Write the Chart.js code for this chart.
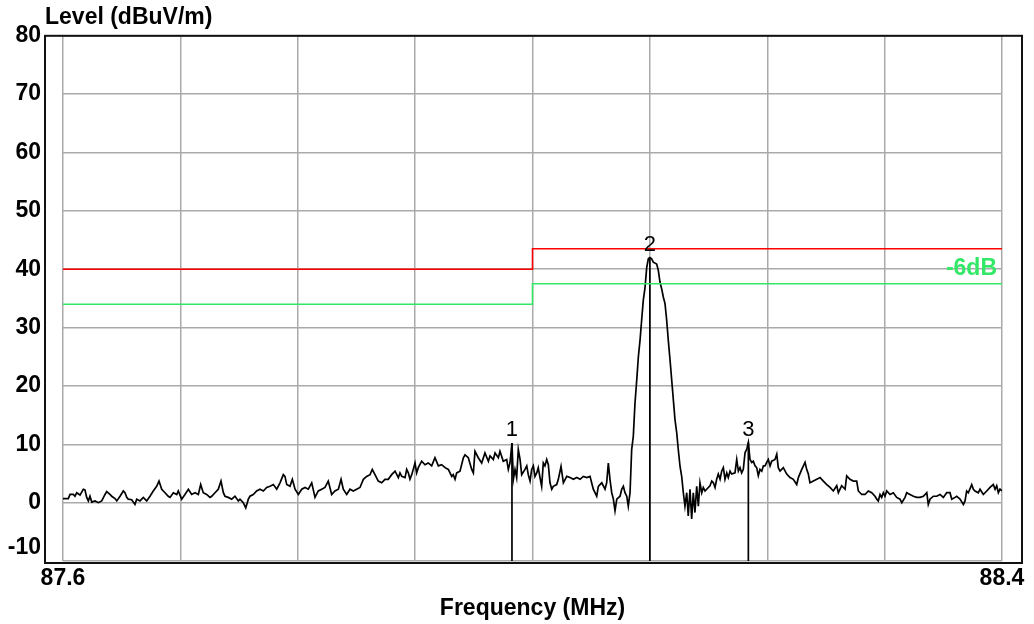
<!DOCTYPE html>
<html>
<head>
<meta charset="utf-8">
<script src="https://cdn.jsdelivr.net/npm/chart.js@4/dist/chart.umd.min.js"></script>
<style>
  html, body { margin: 0; padding: 0; background: #fff; }
  #wrap { width: 1034px; height: 624px; }
</style>
</head>
<body>
<div id="wrap"><canvas id="ItemA" width="1034" height="624"></canvas></div>
<script>
var viewport = document.getElementById("ItemA");
var ctx = viewport.getContext("2d");

// axis range / ticks
var freqMin = 87.6, freqMax = 88.4;
var levelTicks = [-10, 0, 10, 20, 30, 40, 50, 60, 70, 80];

// limit lines (red = limit, green = limit -6dB)
var limitFreq  = [87.6, 88.0, 88.0, 88.4];
var limitLevel = [40, 40, 43.5, 43.5];
var warnLevel  = [34, 34, 37.5, 37.5];

// markers
var markerName  = ['1', '2', '3'];
var markerFreq  = [87.9825, 88.1000, 88.1839];
var markerLevel = [10.2, 42.0, 10.3];

var traceFreq = [
  87.6000, 87.6045, 87.6060, 87.6088, 87.6102, 87.6117, 87.6145, 87.6173, 87.6187, 87.6202,
  87.6216, 87.6230, 87.6245, 87.6273, 87.6301, 87.6330, 87.6358, 87.6372, 87.6400, 87.6415,
  87.6443, 87.6458, 87.6486, 87.6514, 87.6528, 87.6543, 87.6556, 87.6585, 87.6613, 87.6628,
  87.6656, 87.6684, 87.6713, 87.6741, 87.6769, 87.6798, 87.6818, 87.6841, 87.6869, 87.6897,
  87.6912, 87.6940, 87.6969, 87.6982, 87.7011, 87.7039, 87.7068, 87.7096, 87.7125, 87.7153,
  87.7173, 87.7195, 87.7224, 87.7252, 87.7267, 87.7295, 87.7323, 87.7346, 87.7366, 87.7380,
  87.7408, 87.7437, 87.7465, 87.7494, 87.7508, 87.7536, 87.7557, 87.7579, 87.7593, 87.7621,
  87.7650, 87.7678, 87.7707, 87.7735, 87.7764, 87.7792, 87.7821, 87.7849, 87.7877, 87.7891,
  87.7906, 87.7934, 87.7954, 87.7977, 87.8005, 87.8034, 87.8062, 87.8090, 87.8119, 87.8147,
  87.8175, 87.8204, 87.8232, 87.8260, 87.8289, 87.8317, 87.8346, 87.8369, 87.8388, 87.8417,
  87.8445, 87.8473, 87.8502, 87.8530, 87.8559, 87.8587, 87.8616, 87.8635, 87.8658, 87.8686,
  87.8715, 87.8743, 87.8771, 87.8800, 87.8829, 87.8857, 87.8871, 87.8886, 87.8914, 87.8928,
  87.8942, 87.8956, 87.8971, 87.8984, 87.8999, 87.9013, 87.9027, 87.9056, 87.9084, 87.9112,
  87.9141, 87.9169, 87.9198, 87.9226, 87.9255, 87.9283, 87.9312, 87.9325, 87.9340, 87.9354,
  87.9382, 87.9411, 87.9425, 87.9453, 87.9482, 87.9496, 87.9510, 87.9538, 87.9567, 87.9595,
  87.9624, 87.9638, 87.9666, 87.9681, 87.9709, 87.9723, 87.9751, 87.9780, 87.9794, 87.9808,
  87.9825, 87.9837, 87.9851, 87.9865, 87.9879, 87.9894, 87.9908, 87.9936, 87.9951, 87.9964,
  87.9979, 87.9993, 88.0007, 88.0021, 88.0036, 88.0049, 88.0064, 88.0078, 88.0092, 88.0106,
  88.0121, 88.0135, 88.0149, 88.0164, 88.0177, 88.0206, 88.0220, 88.0243, 88.0263, 88.0292,
  88.0320, 88.0348, 88.0377, 88.0405, 88.0433, 88.0462, 88.0490, 88.0518, 88.0547, 88.0561,
  88.0590, 88.0618, 88.0632, 88.0646, 88.0660, 88.0675, 88.0689, 88.0703, 88.0718, 88.0746,
  88.0760, 88.0774, 88.0788, 88.0803, 88.0816, 88.0831, 88.0845, 88.0859, 88.0873, 88.0888,
  88.0902, 88.0916, 88.0930, 88.0944, 88.0959, 88.0973, 88.0987, 88.1000, 88.1015, 88.1029,
  88.1058, 88.1072, 88.1086, 88.1101, 88.1115, 88.1129, 88.1143, 88.1157, 88.1172, 88.1186,
  88.1200, 88.1214, 88.1229, 88.1242, 88.1257, 88.1271, 88.1285, 88.1299, 88.1314, 88.1327,
  88.1342, 88.1356, 88.1370, 88.1384, 88.1399, 88.1413, 88.1427, 88.1442, 88.1455, 88.1470,
  88.1484, 88.1512, 88.1527, 88.1541, 88.1555, 88.1569, 88.1583, 88.1598, 88.1612, 88.1626,
  88.1640, 88.1655, 88.1668, 88.1683, 88.1697, 88.1725, 88.1740, 88.1754, 88.1768, 88.1782,
  88.1796, 88.1811, 88.1825, 88.1839, 88.1853, 88.1868, 88.1881, 88.1896, 88.1910, 88.1924,
  88.1938, 88.1953, 88.1967, 88.1981, 88.1995, 88.2009, 88.2024, 88.2038, 88.2066, 88.2081,
  88.2094, 88.2109, 88.2137, 88.2166, 88.2194, 88.2222, 88.2251, 88.2265, 88.2294, 88.2322,
  88.2336, 88.2350, 88.2364, 88.2393, 88.2422, 88.2450, 88.2478, 88.2507, 88.2535, 88.2563,
  88.2592, 88.2606, 88.2634, 88.2663, 88.2677, 88.2705, 88.2733, 88.2762, 88.2776, 88.2805,
  88.2833, 88.2861, 88.2890, 88.2918, 88.2933, 88.2946, 88.2961, 88.2975, 88.2989, 88.3003,
  88.3018, 88.3046, 88.3074, 88.3103, 88.3131, 88.3146, 88.3174, 88.3188, 88.3216, 88.3245,
  88.3273, 88.3302, 88.3330, 88.3359, 88.3372, 88.3387, 88.3415, 88.3444, 88.3472, 88.3500,
  88.3529, 88.3557, 88.3572, 88.3600, 88.3614, 88.3642, 88.3671, 88.3685, 88.3699, 88.3713,
  88.3742, 88.3756, 88.3770, 88.3798, 88.3813, 88.3841, 88.3870, 88.3898, 88.3926, 88.3941,
  88.3955, 88.3969, 88.3983, 88.4000
];
var traceLevel = [
  0.7, 0.7, 1.4, 1.4, 1.1, 1.7, 1.3, 2.3, 2.2, 0.9,
  0.3, 1.1, 0.1, 0.3, 0.0, 0.3, 1.4, 1.9, 1.4, 1.1,
  0.7, 0.3, 1.1, 2.0, 1.7, 0.9, 0.6, 0.5, -0.3, 0.6,
  0.3, 0.9, 0.3, 1.1, 2.0, 2.8, 3.7, 2.3, 1.7, 1.1,
  0.9, 1.7, 1.4, 2.0, 0.6, 1.4, 2.3, 1.4, 1.7, 1.4,
  3.1, 1.7, 1.4, 0.9, 1.1, 1.7, 2.3, 3.7, 1.7, 1.1,
  0.9, 0.6, 1.1, 0.3, 0.6, 0.0, -0.9, 0.6, 1.1, 1.4,
  2.0, 2.3, 2.0, 2.6, 2.8, 3.1, 2.3, 3.4, 4.8, 4.5,
  3.1, 2.8, 4.0, 2.3, 1.4, 2.3, 2.6, 2.3, 3.4, 0.9,
  2.0, 2.3, 2.6, 3.7, 1.4, 2.0, 2.3, 4.0, 2.3, 1.4,
  2.3, 2.0, 2.3, 2.6, 4.0, 4.5, 4.8, 5.7, 4.8, 3.7,
  3.4, 4.0, 4.0, 4.8, 5.4, 4.3, 5.1, 4.5, 4.3, 5.7,
  5.1, 4.0, 4.8, 5.7, 6.8, 5.1, 6.0, 7.1, 6.5, 6.8,
  6.3, 7.7, 6.3, 6.5, 6.0, 5.7, 4.5, 4.8, 4.0, 5.1,
  5.4, 7.7, 8.2, 7.7, 5.7, 5.1, 8.8, 7.7, 6.8, 8.5,
  7.1, 8.0, 7.4, 8.5, 7.7, 8.8, 7.1, 7.4, 5.7, 6.8,
  10.2, 4.0, 5.7, 4.3, 9.1, 7.4, 4.8, 5.7, 6.3, 4.8,
  3.7, 5.7, 6.3, 4.5, 5.1, 6.0, 4.3, 2.8, 6.8, 6.3,
  7.4, 6.5, 3.4, 2.3, 2.8, 3.1, 4.0, 6.2, 3.4, 4.5,
  4.3, 4.0, 4.3, 4.0, 4.5, 4.3, 4.5, 2.3, 1.1, 2.8,
  3.4, 2.3, 3.4, 6.8, 4.0, 1.7, 0.6, -1.4, 0.6, 1.1,
  2.3, 2.8, 1.7, 1.1, -0.6, 1.7, 9.1, 11.4, 17.0, 21.0,
  25.0, 27.8, 31.3, 34.7, 36.9, 40.3, 41.8, 42.0, 41.8, 41.2,
  40.9, 39.8, 37.8, 36.6, 35.2, 34.1, 31.3, 27.8, 24.4, 21.0,
  17.6, 14.2, 11.9, 9.1, 6.2, 4.5, 1.7, -0.6, 1.7, -2.3,
  2.3, -2.8, 1.7, -1.7, 2.8, -0.6, 3.4, 1.7, 2.6, 2.0,
  2.3, 2.9, 3.7, 3.4, 2.6, 4.0, 4.9, 4.0, 5.4, 6.0,
  4.0, 5.1, 4.3, 5.4, 4.9, 5.1, 7.4, 5.4, 6.0, 5.1,
  5.7, 8.6, 9.1, 10.3, 7.4, 6.9, 7.1, 6.3, 6.0, 4.6,
  5.7, 5.4, 6.3, 6.3, 6.9, 7.4, 6.3, 7.1, 7.4, 8.3,
  6.0, 5.4, 6.0, 4.9, 4.3, 4.0, 3.1, 4.3, 5.7, 6.9,
  5.7, 4.9, 3.4, 3.7, 4.0, 4.3, 3.7, 3.1, 2.6, 2.0,
  2.9, 1.7, 2.9, 2.3, 4.6, 4.0, 3.7, 3.7, 2.0, 1.4,
  1.4, 2.0, 1.7, 1.1, 0.6, 0.3, 1.4, 0.9, 1.7, 1.1,
  2.0, 1.4, 1.7, 0.9, 0.6, 0.0, 0.9, 1.7, 1.4, 1.1,
  0.9, 0.9, 1.1, 1.7, -0.3, 0.6, 1.1, 1.1, 1.4, 0.9,
  1.7, 1.7, 0.6, 0.9, 1.1, 0.6, -0.3, 0.3, 2.0, 1.7,
  3.1, 2.3, 2.0, 1.7, 2.3, 1.4, 2.0, 2.6, 3.1, 2.3,
  2.9, 1.7, 2.3, 2.0
];

var FONT = '"Liberation Sans", Arial, sans-serif';
var GREEN = '#33e866';

function pairs(xs, ys) {
    return xs.map(function (f, i) { return {x: f, y: ys[i]}; });
}

// marker drop lines: peak -> bottom, broken by null
var markerLines = [];
markerFreq.forEach(function (f, i) {
    markerLines.push({x: f, y: markerLevel[i]});
    markerLines.push({x: f, y: levelTicks[0]});
    markerLines.push({x: f, y: null});
});

var overlay = {
    id: 'overlay',
    afterDatasetsDraw: function (chart) {
        var c = chart.ctx, a = chart.chartArea;
        var xs = chart.scales.x, ys = chart.scales.y;
        c.save();
        // outer black frame
        c.strokeStyle = '#111';
        c.lineWidth = 2;
        c.strokeRect(a.left - 18, a.top, a.right - a.left + 38, a.bottom - a.top + 2);
        // y axis caption
        c.fillStyle = '#000';
        c.font = 'bold 23px ' + FONT;
        c.textAlign = 'left';
        c.textBaseline = 'middle';
        c.fillText('Level (dBuV/m)', a.left - 18, 18);
        // -6dB label
        c.fillStyle = GREEN;
        c.textAlign = 'right';
        c.fillText('-6dB', xs.getPixelForValue(freqMax) - 5, ys.getPixelForValue(limitLevel[3]) + 20);
        // marker numbers
        c.fillStyle = '#000';
        c.font = '22px ' + FONT;
        c.textAlign = 'center';
        c.textBaseline = 'bottom';
        markerFreq.forEach(function (f, i) {
            c.fillText(markerName[i], xs.getPixelForValue(f), ys.getPixelForValue(markerLevel[i]) - 2);
        });
        c.restore();
    }
};

var chartData = {
    type: 'line',
    data: {
        datasets: [
            {label: 'Limit', data: pairs(limitFreq, limitLevel), borderColor: '#ff0000', borderWidth: 1.6, pointRadius: 0, fill: false},
            {label: 'Limit -6dB', data: pairs(limitFreq, warnLevel), borderColor: GREEN, borderWidth: 1.6, pointRadius: 0, fill: false},
            {label: 'Level', data: pairs(traceFreq, traceLevel), borderColor: '#000', borderWidth: 1.7, pointRadius: 0, fill: false, tension: 0},
            {label: 'Markers', data: markerLines, borderColor: '#000', borderWidth: 1.7, pointRadius: 0, fill: false, spanGaps: false}
        ]
    },
    options: {
        responsive: false,
        animation: false,
        events: [],
        layout: {padding: {left: 0, right: 32, top: 35, bottom: 0}},
        plugins: {legend: {display: false}, tooltip: {enabled: false}, title: {display: false}},
        scales: {
            x: {
                type: 'linear',
                min: freqMin,
                max: freqMax,
                afterFit: function (s) { s.height = 63; },
                border: {display: false},
                grid: {color: '#aaaaaa', lineWidth: 1.5, drawTicks: false},
                ticks: {
                    stepSize: 0.1,
                    autoSkip: false,
                    maxRotation: 0,
                    padding: 4,
                    color: '#000',
                    font: {family: FONT, size: 23, weight: 'bold'},
                    callback: function (v, i, t) {
                        return (i === 0 || i === t.length - 1) ? v.toFixed(1) : '';
                    }
                },
                title: {display: true, text: 'Frequency (MHz)', color: '#000', padding: {top: 0, bottom: 2},
                        font: {family: FONT, size: 23, weight: 'bold'}}
            },
            y: {
                min: levelTicks[0],
                max: levelTicks[levelTicks.length - 1],
                afterFit: function (s) { s.width = 63; },
                border: {display: false},
                grid: {color: '#aaaaaa', lineWidth: 1.5, drawTicks: false},
                ticks: {
                    stepSize: 10,
                    padding: 22,
                    color: '#000',
                    font: {family: FONT, size: 23, weight: 'bold'},
                    callback: function (v) { return v === levelTicks[0] ? [String(v), ''] : String(v); }
                }
            }
        }
    },
    plugins: [overlay]
};

var myChart = new Chart(ctx, chartData);
</script>
</body>
</html>
